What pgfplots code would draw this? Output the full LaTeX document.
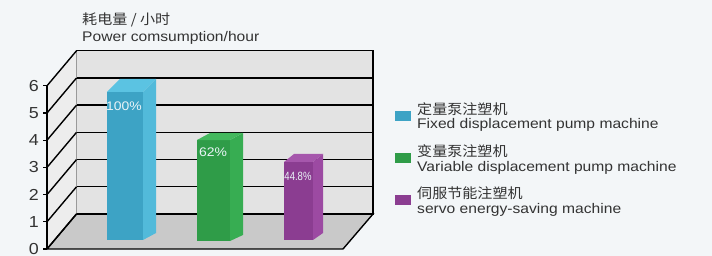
\documentclass[border=0pt]{standalone}
\usepackage{fontspec}
\setmainfont{Liberation Sans}[FakeStretch=1.12]
\newfontfamily\cjk{Noto Sans CJK SC}[FakeStretch=1.08]
\newfontfamily\narrowfont{Liberation Sans}[FakeStretch=0.8]
\usepackage{pgfplots}
\pgfplotsset{compat=1.18}
\definecolor{bgcol}{HTML}{F3F6F8}
\definecolor{wall}{HTML}{E3E3E3}
\definecolor{sidewall}{HTML}{EDEDED}
\definecolor{floorcol}{HTML}{C9C9C9}
\definecolor{bfront}{HTML}{3DA3C5}
\definecolor{bside}{HTML}{52BADA}
\definecolor{btop}{HTML}{5BC3E2}
\definecolor{gfront}{HTML}{2F9C48}
\definecolor{gside}{HTML}{37AD52}
\definecolor{gtop}{HTML}{44B95E}
\definecolor{pfront}{HTML}{8B3D91}
\definecolor{pside}{HTML}{9C4AA2}
\definecolor{ptop}{HTML}{A657AC}
\definecolor{textcol}{HTML}{333333}
\definecolor{labcol}{HTML}{EAF4F7}
\begin{document}
\begin{tikzpicture}
\begin{axis}[
  at={(0,0)}, anchor=south west,
  width=712bp, height=256bp, scale only axis,
  xmin=0, xmax=712, ymin=-0.2574, ymax=9.1544,
  axis line style={draw=none},
  xtick=\empty,
  ytick={0,1,2,3,4,5,6},
  major tick length=0pt,
  yticklabel style={anchor=east, inner sep=0pt, xshift=39bp, text=textcol, font=\fontsize{16}{16}\selectfont},
  /pgf/number format/assume math mode=true,
  clip=false,
  axis background/.style={fill=bgcol},
  legend image code/.code={\fill[#1] (0bp,-8bp) rectangle (16bp,2bp);},
  legend cell align=left,
  legend style={at={(axis cs:395,5.403)}, anchor=north west, draw=none, fill=none,
    inner sep=0pt, row sep=21.5bp, column sep=0pt,
    nodes={inner sep=0pt, text=textcol, font=\fontsize{14}{15}\selectfont},
    /tikz/every odd column/.style={column sep=6bp}},
]
% back wall
\addplot[forget plot, fill=wall, draw=black, line width=1.4bp] coordinates {(76.5,1.287) (373,1.287) (373,7.287) (76.5,7.287)} -- cycle;
% left side wall
\addplot[forget plot, fill=sidewall, draw=none] coordinates {(47,0) (76.5,1.287) (76.5,7.287) (47,6)} -- cycle;
% floor
\addplot[forget plot, fill=floorcol, draw=black, line width=1.4bp] coordinates {(47,0) (343,0) (373,1.287) (76.5,1.287)} -- cycle;
% grid lines and diagonals
\pgfplotsinvokeforeach{0,1,2,3,4,5,6}{
  \draw[black, line width=1.4bp] (axis cs:47,#1) -- (axis cs:76.5,{#1+1.287});
  \draw[black, line width=1.4bp] (axis cs:76.5,{#1+1.287}) -- (axis cs:373,{#1+1.287});
  \draw[black, line width=1.2bp] (axis cs:43,#1) -- (axis cs:47,#1);
}
\draw[black, line width=1.4bp] (axis cs:47,0) -- (axis cs:47,6);
% bars: base and top (front face), heights 5.44, 3.71, 2.87
\addplot[fill=bfront, draw=none] coordinates {(107,0.331) (143,0.331) (143,5.772) (107,5.772)} -- cycle;
\addlegendentry{\begin{tabular}{@{}l@{}}{\cjk 定量泵注塑机}\\Fixed displacement pump machine\end{tabular}}
\addplot[fill=gfront, draw=none] coordinates {(197,0.294) (230,0.294) (230,4.007) (197,4.007)} -- cycle;
\addlegendentry{\begin{tabular}{@{}l@{}}{\cjk 变量泵注塑机}\\Variable displacement pump machine\end{tabular}}
\addplot[fill=pfront, draw=none] coordinates {(284,0.331) (313,0.331) (313,3.199) (284,3.199)} -- cycle;
\addlegendentry{\begin{tabular}{@{}l@{}}{\cjk 伺服节能注塑机}\\servo energy-saving machine\end{tabular}}
% side faces
\addplot[forget plot, fill=bside, draw=none] coordinates {(143,0.331) (156,0.588) (156,6.250) (143,5.772)} -- cycle;
\addplot[forget plot, fill=gside, draw=none] coordinates {(230,0.294) (243,0.515) (243,4.265) (230,4.007)} -- cycle;
\addplot[forget plot, fill=pside, draw=none] coordinates {(313,0.331) (323,0.588) (323,3.493) (313,3.199)} -- cycle;
% top faces
\addplot[forget plot, fill=btop, draw=none] coordinates {(107,5.772) (143,5.772) (156,6.250) (120,6.250)} -- cycle;
\addplot[forget plot, fill=gtop, draw=none] coordinates {(197,4.007) (230,4.007) (243,4.265) (210,4.265)} -- cycle;
\addplot[forget plot, fill=ptop, draw=none] coordinates {(284,3.199) (313,3.199) (323,3.493) (294,3.493)} -- cycle;
% bar labels
\node[text=labcol, font=\fontsize{12.5}{12.5}\selectfont, inner sep=0pt] at (axis cs:124,5.257) {100\%};
\node[text=labcol, font=\fontsize{12.5}{12.5}\selectfont, inner sep=0pt] at (axis cs:213,3.566) {62\%};
\node[text=labcol, font=\narrowfont\fontsize{12}{12}\selectfont, inner sep=0pt] at (axis cs:298,2.684) {44.8\%};
% title
\node[anchor=north west, inner sep=0pt, align=left, text=textcol, font=\fontsize{14}{17}\selectfont] at (axis cs:82,8.676) {{\cjk 耗电量 / 小时}\\Power comsumption/hour};
\end{axis}
\pgfresetboundingbox
\useasboundingbox (0,0) rectangle (712bp,256bp);
\end{tikzpicture}
\end{document}
